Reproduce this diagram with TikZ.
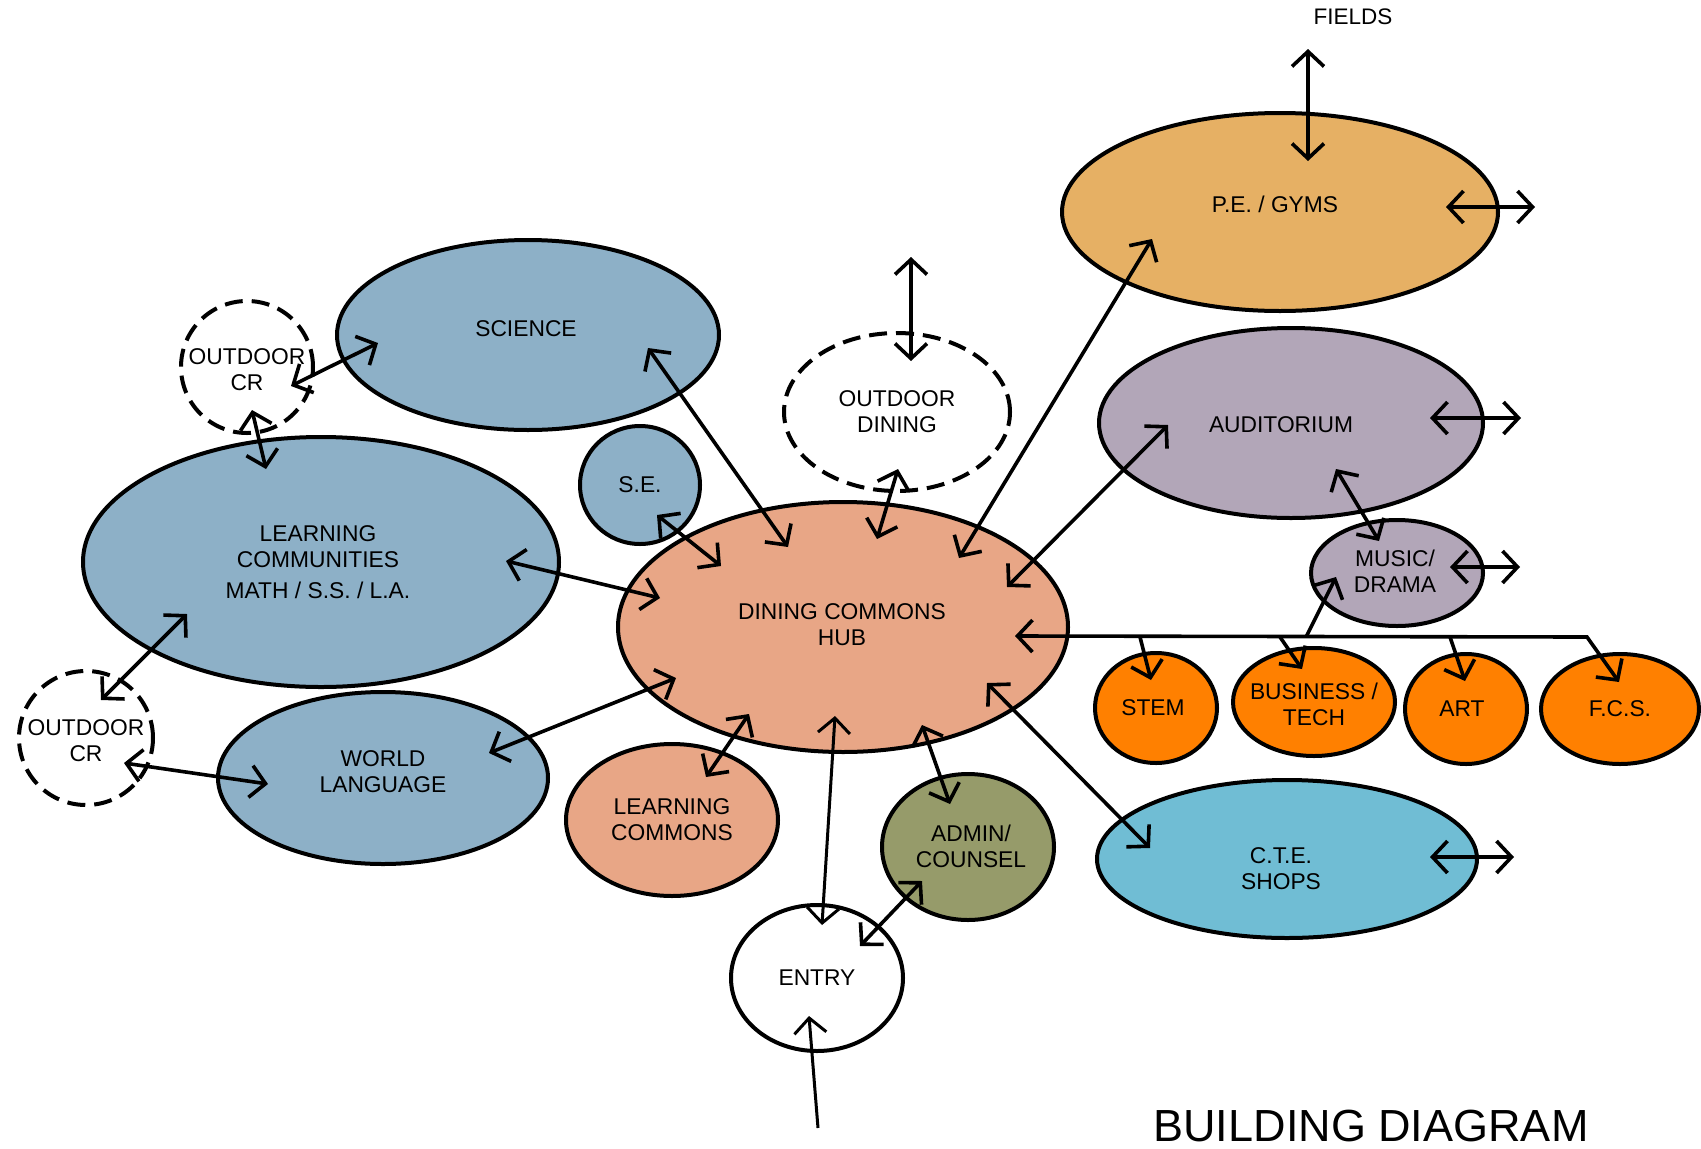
\documentclass[tikz,border=0pt]{standalone}
\usepackage{fontspec}
\setmainfont{Liberation Sans}
\usetikzlibrary{shapes.geometric,arrows.meta}
\definecolor{cblue}{RGB}{141,176,199}
\definecolor{csalmon}{RGB}{232,166,134}
\definecolor{cpe}{RGB}{230,176,100}
\definecolor{caud}{RGB}{178,166,184}
\definecolor{corange}{RGB}{255,128,0}
\definecolor{ccte}{RGB}{112,189,212}
\definecolor{cadm}{RGB}{150,155,106}
\begin{document}
\begin{tikzpicture}[x=1pt,y=-1pt,
  >={Straight Barb[length=15pt,width=32pt]},
  txt/.style={align=center,inner sep=0pt,font=\fontsize{22.8}{26}\selectfont},
  bub/.style={ellipse,draw=black,line width=4pt,inner sep=0pt},
  dsh/.style={bub,fill=white,dash pattern=on 18pt off 9pt},
  con/.style={line width=3.6pt,<->},
  one/.style={line width=3.6pt,->}]
\fill[white] (0,0) rectangle (1701,1149);
\useasboundingbox (0,0) rectangle (1701,1149);
% nodes
\node[bub,fill=cblue,minimum width=382pt,minimum height=190pt,label={[txt,yshift=6pt,xshift=-2pt]center:SCIENCE}] (sci) at (528,335) {};
\node[dsh,minimum width=132pt,minimum height=132pt,label={[txt,yshift=-3pt]center:OUTDOOR\\CR}] (ocr1) at (247,367) {};
\node[bub,fill=cblue,minimum width=476pt,minimum height=250pt,label={[txt,xshift=-3pt]center:LEARNING\\COMMUNITIES\\[5pt]MATH / S.S. / L.A.}] (lc) at (321,562) {};
\node[bub,fill=cblue,minimum width=120pt,minimum height=118pt,label={[txt]center:S.E.}] (se) at (640,485) {};
\node[bub,fill=csalmon,minimum width=450pt,minimum height=250pt,label={[txt,yshift=2pt,xshift=-1pt]center:DINING COMMONS\\HUB}] (hub) at (843,627) {};
\node[dsh,minimum width=226pt,minimum height=158pt,label={[txt]center:OUTDOOR\\DINING}] (od) at (897,412) {};
\node[bub,fill=cpe,minimum width=436pt,minimum height=198pt,label={[txt,yshift=8pt,xshift=-5pt]center:P.E. / GYMS}] (pe) at (1280,212) {};
\node[bub,fill=caud,minimum width=384pt,minimum height=190pt,label={[txt,yshift=-2pt,xshift=-10pt]center:AUDITORIUM}] (aud) at (1291,423) {};
\node[bub,fill=caud,minimum width=172pt,minimum height=106pt,label={[txt,yshift=2pt,xshift=-2pt]center:MUSIC/\\DRAMA}] (mus) at (1397,573) {};
\node[bub,fill=corange,minimum width=122pt,minimum height=110pt,label={[txt,xshift=-3pt]center:STEM}] (stem) at (1156,708) {};
\node[bub,fill=corange,minimum width=162pt,minimum height=108pt,label={[txt,yshift=-2pt]center:BUSINESS /\\TECH}] (bus) at (1314,702) {};
\node[bub,fill=corange,minimum width=122pt,minimum height=110pt,label={[txt,xshift=-4pt]center:ART}] (art) at (1466,709) {};
\node[bub,fill=corange,minimum width=158pt,minimum height=110pt,label={[txt]center:F.C.S.}] (fcs) at (1620,709) {};
\node[bub,fill=ccte,minimum width=380pt,minimum height=158pt,label={[txt,yshift=-10pt,xshift=-6pt]center:C.T.E.\\SHOPS}] (cte) at (1287,859) {};
\node[bub,fill=cadm,minimum width=172pt,minimum height=146pt,label={[txt,yshift=1pt,xshift=3pt]center:ADMIN/\\COUNSEL}] (adm) at (968,847) {};
\node[bub,fill=white,minimum width=172pt,minimum height=146pt,label={[txt]center:ENTRY}] (ent) at (817,978) {};
\node[bub,fill=csalmon,minimum width=212pt,minimum height=152pt,label={[txt]center:LEARNING\\COMMONS}] (lcom) at (672,820) {};
\node[bub,fill=cblue,minimum width=330pt,minimum height=172pt,label={[txt,yshift=6pt]center:WORLD\\LANGUAGE}] (wl) at (383,778) {};
\node[dsh,minimum width=134pt,minimum height=134pt,label={[txt,yshift=-3pt]center:OUTDOOR\\CR}] (ocr2) at (86,738) {};
\node[font=\fontsize{22.5}{24}\selectfont] (fields) at (1353,17) {FIELDS};
\node[font=\fontsize{45}{50}\selectfont,anchor=base,inner sep=0pt] (title) at (1371,1141) {BUILDING DIAGRAM};
% outward connectors
\draw[con] ([shift={(28,-163)}]pe.center) -- ([shift={(28,-51)}]pe.center);
\draw[con] ([shift={(166,-5)}]pe.center) -- ([shift={(255,-5)}]pe.center);
\draw[con] ([shift={(139,-5)}]aud.center) -- ([shift={(230,-5)}]aud.center);
\draw[con] ([shift={(53,-6)}]mus.center) -- ([shift={(123,-6)}]mus.center);
\draw[con] ([shift={(143,-2)}]cte.center) -- ([shift={(227,-2)}]cte.center);
\draw[con] ([shift={(14,-155)}]od.center) -- ([shift={(14,-51)}]od.center);
% hub connectors
\draw[con] ([shift={(116,-69)}]hub.center) -- ([shift={(-128,27)}]pe.center);
\draw[con] ([shift={(164,-40)}]hub.center) -- ([shift={(-123,2)}]aud.center);
\draw[con] ([shift={(45,46)}]aud.center) -- ([shift={(-18,-32)}]mus.center);
\coordinate (bend) at (1587,637);
\coordinate (bstem) at (1140,637);
\coordinate (bbus) at (1280,637);
\coordinate (bmus) at (1306,637);
\coordinate (bart) at (1450,637);
\draw[con,line join=miter] ([shift={(172,9)}]hub.center) -- (bend) -- ([shift={(-1,-27)}]fcs.center);
\draw[one] (bstem) -- ([shift={(-5,-28)}]stem.center);
\draw[one] (bbus) -- ([shift={(-12,-33)}]bus.center);
\draw[one] (bart) -- ([shift={(-1,-28)}]art.center);
\draw[one] (bmus) -- ([shift={(-61,4)}]mus.center);
\draw[con] ([shift={(144,56)}]hub.center) -- ([shift={(-137,-11)}]cte.center);
\draw[con] ([shift={(79,98)}]hub.center) -- ([shift={(-18,-43)}]adm.center);
\draw[con,line width=3pt] ([shift={(-8,89)}]hub.center) -- ([shift={(5,-53)}]ent.center);
\coordinate (entin) at (818,1128);
\draw[one,line width=3pt] (entin) -- ([shift={(-8,38)}]ent.center);
\draw[con] ([shift={(43,-32)}]ent.center) -- ([shift={(-46,34)}]adm.center);
\draw[con] ([shift={(-94,87)}]hub.center) -- ([shift={(34,-43)}]lcom.center);
\draw[con] ([shift={(-167,51)}]hub.center) -- ([shift={(106,-25)}]wl.center);
\draw[con] ([shift={(-183,-29)}]hub.center) -- ([shift={(185,-1)}]lc.center);
\draw[con] ([shift={(-122,-61)}]hub.center) -- ([shift={(17,30)}]se.center);
\draw[con] ([shift={(-55,-80)}]hub.center) -- ([shift={(120,13)}]sci.center);
\draw[con] ([shift={(34,-88)}]hub.center) -- ([shift={(1,57)}]od.center);
% left side
\draw[con] ([shift={(44,19)}]ocr1.center) -- ([shift={(-150,8)}]sci.center);
\draw[con] ([shift={(5,43)}]ocr1.center) -- ([shift={(-55,-93)}]lc.center);
\draw[con] ([shift={(-134,52)}]lc.center) -- ([shift={(15,-38)}]ocr2.center);
\draw[con] ([shift={(38,25)}]ocr2.center) -- ([shift={(-115,6)}]wl.center);
\end{tikzpicture}
\end{document}
